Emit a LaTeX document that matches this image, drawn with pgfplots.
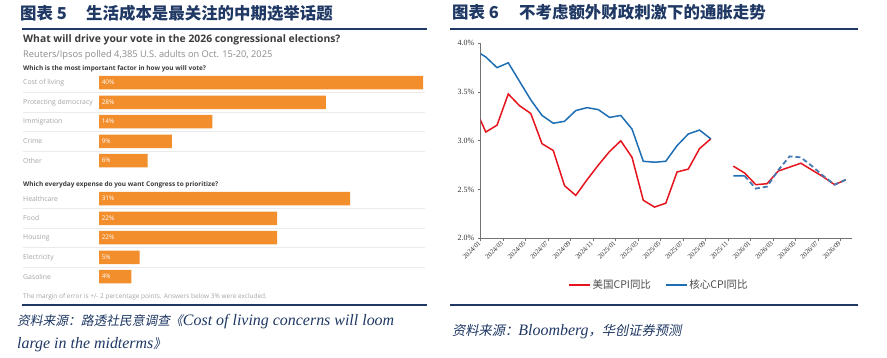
\documentclass[border=0pt]{standalone}
\usepackage{pgfplots}
\pgfplotsset{compat=1.18}
\usepackage{fontspec}
\setmainfont{Liberation Serif}
\newfontfamily\cjk{Noto Sans CJK SC}
\newfontfamily\cjkit{Noto Sans CJK SC}[FakeSlant=0.2]
\newfontfamily\lato{Open Sans}
\definecolor{titleblue}{RGB}{31,56,100}
\definecolor{rorange}{RGB}{242,142,43}
\definecolor{cpired}{RGB}{230,20,30}
\definecolor{cpiblue}{RGB}{30,110,180}
\definecolor{dashblue}{RGB}{70,120,180}
\definecolor{rdark}{RGB}{60,60,60}
\definecolor{rgray}{RGB}{140,140,140}
\definecolor{rlight}{RGB}{165,165,165}
\begin{document}
\begin{tikzpicture}
\path[use as bounding box, fill=white] (0,0) rectangle (887bp,358bp);
% ---------- titles ----------
\node[anchor=west, inner sep=0, text=titleblue, font=\cjk\bfseries\fontsize{16.5}{18}\selectfont] at (20bp,345bp) {图表 5};
\node[anchor=west, inner sep=0, text=titleblue, font=\cjk\bfseries\fontsize{16.5}{18}\selectfont] at (86bp,345bp) {生活成本是最关注的中期选举话题};
\node[anchor=west, inner sep=0, text=titleblue, font=\cjk\bfseries\fontsize{16.5}{18}\selectfont] at (452bp,345.5bp) {图表 6};
\node[anchor=west, inner sep=0, text=titleblue, font=\cjk\bfseries\fontsize{16.5}{18}\selectfont] at (519bp,345.5bp) {不考虑额外财政刺激下的通胀走势};
\draw[titleblue, line width=1.2bp] (22bp,329bp) -- (427bp,329bp);
\draw[titleblue, line width=1.2bp] (450bp,329bp) -- (858bp,329bp);
\draw[titleblue, line width=1.2bp] (22bp,53bp) -- (427bp,53bp);
\draw[titleblue, line width=1.2bp] (450bp,53bp) -- (858bp,53bp);
% ---------- sources ----------
\node[anchor=west, inner sep=0, text=titleblue] at (17bp,36.5bp) {{\cjkit\fontsize{12.8}{14}\selectfont 资料来源：路透社民意调查《}{\itshape\fontsize{16}{17}\selectfont Cost of living concerns will loom}};
\node[anchor=west, inner sep=0, text=titleblue] at (17bp,13bp) {{\itshape\fontsize{16}{17}\selectfont large in the midterms}{\cjkit\fontsize{12.8}{14}\selectfont 》}};
\node[anchor=west, inner sep=0, text=titleblue] at (452bp,26.3bp) {{\cjkit\fontsize{13.3}{14}\selectfont 资料来源：}{\itshape\fontsize{16}{17}\selectfont Bloomberg}{\cjkit\fontsize{13.3}{14}\selectfont ，华创证券预测}};
% ---------- Reuters panel texts ----------
\node[anchor=west, inner sep=0, text=rdark, font=\lato\bfseries\fontsize{10.4}{11}\selectfont] at (23bp,318bp) {What will drive your vote in the 2026 congressional elections?};
\node[anchor=west, inner sep=0, text=rgray, font=\lato\fontsize{9.3}{10}\selectfont] at (23bp,303bp) {Reuters/Ipsos polled 4,385 U.S. adults on Oct. 15-20, 2025};
\node[anchor=west, inner sep=0, text=rdark, font=\lato\bfseries\fontsize{6.5}{7}\selectfont] at (23bp,288.7bp) {Which is the most important factor in how you will vote?};
\node[anchor=west, inner sep=0, text=rdark, font=\lato\bfseries\fontsize{6.5}{7}\selectfont] at (23bp,173bp) {Which everyday expense do you want Congress to prioritize?};
\node[anchor=west, inner sep=0, text=rlight, font=\lato\fontsize{6.5}{7}\selectfont] at (23bp,60.7bp) {The margin of error is +/- 2 percentage points. Answers below 3\% were excluded.};
\foreach \yy/\lab in {275.3/Cost of living, 255.7/Protecting democracy, 236.3/Immigration, 216.7/Crime, 197.3/Other, 159.3/Healthcare, 139.7/Food, 120.3/Housing, 100.7/Electricity, 81.3/Gasoline}
  \node[anchor=west, inner sep=0, text=rlight, font=\lato\fontsize{6.9}{7}\selectfont] at (23bp,\yy bp) {\lab};
\foreach \yy in {265.5, 246, 226.5, 207, 149.5, 130, 110.5, 91}
  \draw[black!8, line width=0.5bp] (23bp,\yy bp) -- (425bp,\yy bp);
% ---------- Reuters bars ----------
\begin{axis}[
  at={(99bp,60bp)}, anchor=south west, scale only axis,
  width=324bp, height=230bp,
  xmin=0, xmax=40, ymin=60, ymax=290,
  hide axis, clip=false,
]
\addplot[xbar, bar width=13.5, fill=rorange, draw=none] coordinates {
  (40,275.3) (28,255.7) (14,236.3) (9,216.7) (6,197.3)
  (31,159.3) (22,139.7) (22,120.3) (5,100.7) (4,81.3)};
\addplot[only marks, mark=none, nodes near coords={\pgfplotspointmeta}, nodes near coords align={horizontal},
  point meta=explicit symbolic,
  every node near coord/.append style={anchor=west, text=white, font=\lato\fontsize{6.4}{7}\selectfont, inner sep=2.5bp}] coordinates {
  (0.01,275.3) [40\%] (0.01,255.7) [28\%] (0.01,236.3) [14\%] (0.01,216.7) [9\%] (0.01,197.3) [6\%]
  (0.01,159.3) [31\%] (0.01,139.7) [22\%] (0.01,120.3) [22\%] (0.01,100.7) [5\%] (0.01,81.3) [4\%]};
\end{axis}
% ---------- CPI chart ----------
\begin{axis}[
  at={(480.7bp,119.7bp)}, anchor=south west, scale only axis,
  width=371.3bp, height=195bp,
  xmin=0, xmax=33, ymin=2, ymax=4,
  axis x line*=bottom, axis y line*=left,
  axis line style={draw=black!55, line width=0.6bp},
  tick style={draw=black!55, line width=0.6bp},
  tick align=outside, major tick length=3bp,
  xtick={0,2,...,32},
  xticklabels={2024/01,2024/03,2024/05,2024/07,2024/09,2024/11,2025/01,2025/03,2025/05,2025/07,2025/09,2025/11,2026/01,2026/03,2026/05,2026/07,2026/09},
  xticklabel style={rotate=45, anchor=east, font=\fontsize{6.8}{7}\selectfont, text=black!80, inner sep=1.5bp},
  ytick={2,2.5,3,3.5,4},
  yticklabel={\pgfmathprintnumber[fixed,fixed zerofill,precision=1]{\tick}\%},
  yticklabel style={font=\fontsize{8}{9}\selectfont, text=black!80},
  /pgf/number format/assume math mode=true,
  unbounded coords=jump,
  legend style={at={(0.48,-0.24)}, anchor=center, draw=none, fill=none, legend columns=2,
    font=\cjk\fontsize{10.5}{12}\selectfont, text=black!70,
    /tikz/every even column/.append style={column sep=12bp}},
  legend image code/.code={\draw[#1] (0bp,0bp) -- (21bp,0bp);},
]
\addplot[cpired, line width=1.5bp] table {
x y
-0.55 3.35
0.45 3.09
1.45 3.16
2.45 3.48
3.45 3.36
4.45 3.28
5.45 2.97
6.45 2.90
7.45 2.54
8.45 2.44
9.45 2.60
10.45 2.75
11.45 2.89
12.45 3.00
13.45 2.83
14.45 2.39
15.45 2.32
16.45 2.36
17.45 2.68
18.45 2.71
19.45 2.92
20.45 3.02
21.45 nan
22.45 2.74
23.45 2.67
24.45 2.55
25.45 2.56
26.45 2.69
27.45 2.73
28.45 2.77
29.45 2.70
30.45 2.63
31.45 2.55
32.45 2.60
};
\addlegendentry{美国CPI同比}
\addplot[cpiblue, line width=1.5bp] table {
x y
-0.55 3.93
0.45 3.86
1.45 3.75
2.45 3.80
3.45 3.61
4.45 3.42
5.45 3.26
6.45 3.18
7.45 3.20
8.45 3.31
9.45 3.34
10.45 3.32
11.45 3.24
12.45 3.26
13.45 3.12
14.45 2.79
15.45 2.78
16.45 2.79
17.45 2.95
18.45 3.07
19.45 3.11
20.45 3.02
21.45 nan
22.45 2.64
23.45 2.64
};
\addlegendentry{核心CPI同比}
\addplot[dashblue, line width=1.8bp, dash pattern=on 5bp off 3bp, forget plot] table {
x y
23.45 2.64
24.45 2.51
25.45 2.53
26.45 2.70
27.45 2.84
28.45 2.83
29.45 2.74
30.45 2.64
31.45 2.55
32.45 2.60
};
\end{axis}
\end{tikzpicture}
\end{document}
